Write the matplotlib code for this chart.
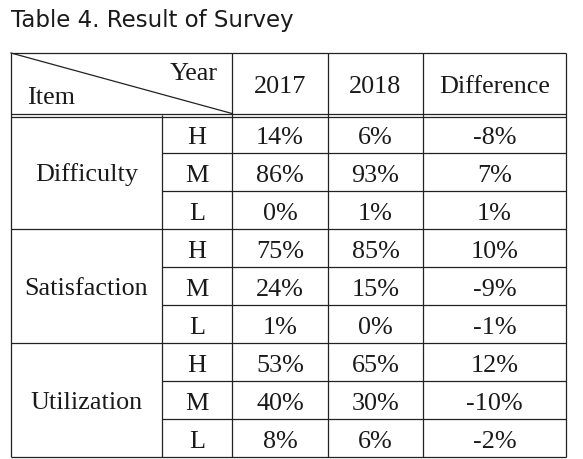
import matplotlib
matplotlib.use("Agg")
import matplotlib.pyplot as plt

title = "Table 4. Result of Survey"
header_item = "Item"
header_year = "Year"
columns = ["2017", "2018", "Difference"]
items = ["Difficulty", "Satisfaction", "Utilization"]
levels = ["H", "M", "L"]
values_2017 = ["14%", "86%", "0%", "75%", "24%", "1%", "53%", "40%", "8%"]
values_2018 = ["6%", "93%", "1%", "85%", "15%", "0%", "65%", "30%", "6%"]
differences = ["-8%", "7%", "1%", "10%", "-9%", "-1%", "12%", "-10%", "-2%"]

W, H = 583, 460
fig = plt.figure(figsize=(W / 100, H / 100), dpi=100)
ax = fig.add_axes([0, 0, 1, 1])
ax.set_xlim(0, W)
ax.set_ylim(H, 0)
ax.axis("off")

# layout (pixels)
col_x = [11, 162, 232, 328, 423, 566]
top = 54
head_bot = 116
row_h = 38.0
lc = "#222222"
lw = 0.9
serif = ["Liberation Serif", "DejaVu Serif"]
fs = 18.8
tc = "#1a1a1a"

ax.text(11, 21, title, fontsize=16.5, family=["DejaVu Sans"],
        va="center", ha="left", color="#1a1a1a")

nrows = len(items) * len(levels)
bottom = head_bot + row_h * nrows

def hline(y, x0, x1):
    ax.plot([x0, x1], [y, y], color=lc, lw=lw, solid_capstyle="butt")

def vline(x, y0, y1):
    ax.plot([x, x], [y0, y1], color=lc, lw=lw, solid_capstyle="butt")

# outer frame
hline(top, col_x[0], col_x[-1])
hline(bottom, col_x[0], col_x[-1])
vline(col_x[0], top, bottom)
vline(col_x[-1], top, bottom)
# double line under header
hline(head_bot - 1.5, col_x[0], col_x[-1])
hline(head_bot + 1.5, col_x[0], col_x[-1])
# header verticals
for x in col_x[2:-1]:
    vline(x, top, bottom)
vline(col_x[1], head_bot, bottom)
# diagonal
ax.plot([col_x[0], col_x[2]], [top, head_bot - 1.5], color=lc, lw=lw)

# rows
for i in range(1, nrows):
    y = head_bot + row_h * i
    if i % len(levels) == 0:
        hline(y, col_x[0], col_x[-1])
    else:
        hline(y, col_x[1], col_x[-1])

# header text
hy = (top + head_bot) / 2
ax.text(col_x[0] + 16, hy + 13, header_item, fontsize=fs, family=serif, ha="left", va="center", color=tc)
ax.text(col_x[2] - 14, hy - 11, header_year, fontsize=fs, family=serif, ha="right", va="center", color=tc)
for j, c in enumerate(columns):
    ax.text((col_x[j + 2] + col_x[j + 3]) / 2, hy + 2, c, fontsize=fs, family=serif,
            ha="center", va="center", color=tc)

for g, item in enumerate(items):
    yc = head_bot + row_h * (g * len(levels) + len(levels) / 2) + 2
    ax.text((col_x[0] + col_x[1]) / 2, yc, item, fontsize=fs, family=serif,
            ha="center", va="center", color=tc)
    for k, lev in enumerate(levels):
        r = g * len(levels) + k
        y = head_bot + row_h * (r + 0.5) + 3
        ax.text((col_x[1] + col_x[2]) / 2, y, lev, fontsize=fs, family=serif, ha="center", va="center", color=tc)
        for j, vals in enumerate([values_2017, values_2018, differences]):
            ax.text((col_x[j + 2] + col_x[j + 3]) / 2, y, vals[r], fontsize=fs, family=serif,
                    ha="center", va="center", color=tc)

fig.savefig("out.png", dpi=100, facecolor="white")
